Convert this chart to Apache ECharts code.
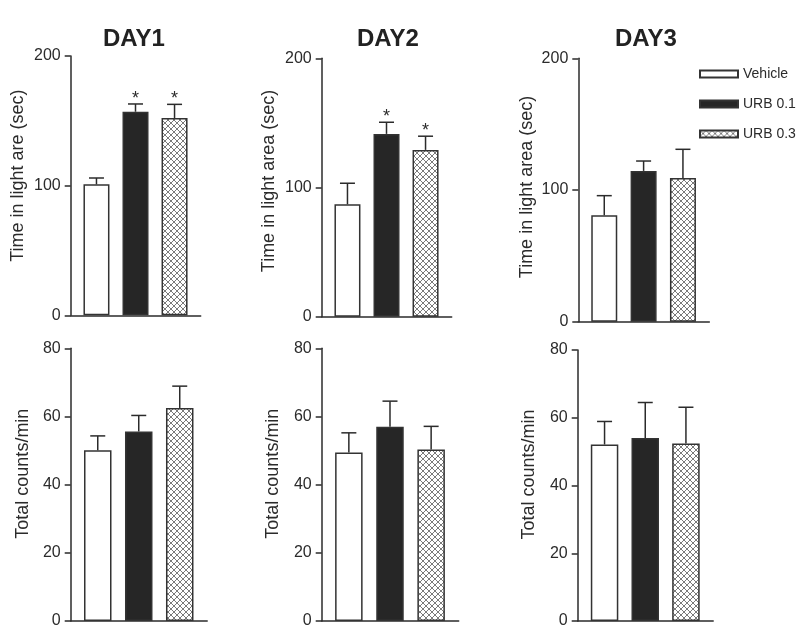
<!DOCTYPE html>
<html><head><meta charset="utf-8">
<script src="https://cdn.jsdelivr.net/npm/echarts@6/dist/echarts.min.js"></script>
<style>html,body{margin:0;padding:0;background:#fff}#c{width:800px;height:629px}</style>
</head><body><div id="c"></div>
<script>
// ---- data ----
const groups = ['Vehicle', 'URB 0.1', 'URB 0.3'];
const dayTitles = ['DAY1', 'DAY2', 'DAY3'];
const timeNames = ['Time in light are (sec)', 'Time in light area (sec)', 'Time in light area (sec)'];
const countName = 'Total counts/min';
const timeTicksMax = 200;
const countTicksMax = 80;

const timeDay1 = [101, 157, 152.2];
const timeDay1Err = [4.9, 6, 10.5];
const timeDay2 = [87, 141.5, 129.1];
const timeDay2Err = [16.3, 9, 10.6];
const timeDay3 = [80.8, 114.5, 109.1];
const timeDay3Err = [14.9, 7.5, 21.8];

const countDay1 = [50.1, 55.6, 62.5];
const countDay1Err = [4.2, 4.7, 6.4];
const countDay2 = [49.4, 57.0, 50.3];
const countDay2Err = [5.8, 7.5, 6.8];
const countDay3 = [52.1, 54.0, 52.4];
const countDay3Err = [6.8, 10.5, 10.7];

const starsDay1 = [0, 1, 1];
const starsDay2 = [0, 1, 1];
const starsDay3 = [0, 0, 0];

// ---- styling / layout ----
const FONT = "'Liberation Sans', Arial, Helvetica, sans-serif";
const INK = '#2b2b2b';

function hatch(stroke) {
  const c = document.createElement('canvas');
  c.width = 6; c.height = 6;
  const g = c.getContext('2d');
  g.fillStyle = '#fff'; g.fillRect(0, 0, 6, 6);
  g.strokeStyle = stroke; g.lineWidth = 1;
  g.beginPath();
  g.moveTo(0, 0); g.lineTo(6, 6);
  g.moveTo(6, 0); g.lineTo(0, 6);
  g.stroke();
  return { image: c, repeat: 'repeat' };
}
const fills = ['#ffffff', '#262626', hatch('#7a7a7a')];

const panels = [
  { grid: { left: 70.7, top: 56, width: 130, height: 259.3 }, means: timeDay1, errs: timeDay1Err, stars: starsDay1, max: timeTicksMax, interval: 100, name: timeNames[0], gap: 44, shift: 20, bw: 26 },
  { grid: { left: 321.7, top: 58.3, width: 130, height: 258.4 }, means: timeDay2, errs: timeDay2Err, stars: starsDay2, max: timeTicksMax, interval: 100, name: timeNames[1], gap: 44, shift: 13, bw: 26 },
  { grid: { left: 578.3, top: 58.3, width: 131, height: 263.4 }, means: timeDay3, errs: timeDay3Err, stars: starsDay3, max: timeTicksMax, interval: 100, name: timeNames[2], gap: 42, shift: 6, bw: 26 },
  { grid: { left: 70.7, top: 348.3, width: 136.5, height: 273.7 }, means: countDay1, errs: countDay1Err, stars: [0,0,0], max: countTicksMax, interval: 20, name: countName, gap: 39, shift: 22, bw: 27.5 },
  { grid: { left: 321.7, top: 348.3, width: 137, height: 273.7 }, means: countDay2, errs: countDay2Err, stars: [0,0,0], max: countTicksMax, interval: 20, name: countName, gap: 40, shift: 22, bw: 27.5 },
  { grid: { left: 577.7, top: 350, width: 135.5, height: 272 }, means: countDay3, errs: countDay3Err, stars: [0,0,0], max: countTicksMax, interval: 20, name: countName, gap: 40, shift: 22, bw: 27.5 }
];

const grid = [], xAxis = [], yAxis = [], series = [];
panels.forEach((p, k) => {
  grid.push(Object.assign({}, p.grid));
  xAxis.push({
    type: 'value', gridIndex: k, min: -0.66, max: 2.67,
    axisLine: { show: true, onZero: false, lineStyle: { color: INK, width: 1.5 } },
    axisTick: { show: false }, axisLabel: { show: false }, splitLine: { show: false }
  });
  yAxis.push({
    type: 'value', gridIndex: k, min: 0, max: p.max, interval: p.interval,
    name: p.name, nameLocation: 'middle', nameGap: p.gap, nameRotate: 90,
    nameTextStyle: { fontFamily: FONT, fontSize: 18, color: INK, padding: [0, 0, 0, p.shift] },
    axisLine: { show: true, onZero: false, lineStyle: { color: INK, width: 1.5 } },
    axisTick: { show: true, length: 6, lineStyle: { color: INK, width: 1.5 } },
    axisLabel: { fontFamily: FONT, fontSize: 16, color: INK, margin: 10 },
    splitLine: { show: false }
  });
  groups.forEach((gname, i) => {
    series.push({
      type: 'bar', name: gname, xAxisIndex: k, yAxisIndex: k, stack: 'p' + k,
      barWidth: p.bw,
      itemStyle: { color: fills[i], borderColor: '#333', borderWidth: 1.5 },
      data: [[i, p.means[i]]],
      emphasis: { disabled: true }
    });
  });
  series.push({
    type: 'custom', name: 'err' + k, xAxisIndex: k, yAxisIndex: k, z: 5,
    data: p.means.map((m, i) => [i, m, p.errs[i], p.stars[i]]),
    renderItem: function (params, api) {
      const x = api.value(0), m = api.value(1), e = api.value(2), s = api.value(3);
      const a = api.coord([x, m]);
      const b = api.coord([x, m + e]);
      const children = [
        { type: 'line', shape: { x1: a[0], y1: a[1], x2: b[0], y2: b[1] }, style: { stroke: INK, lineWidth: 1.5 } },
        { type: 'line', shape: { x1: b[0] - 7.5, y1: b[1], x2: b[0] + 7.5, y2: b[1] }, style: { stroke: INK, lineWidth: 1.5 } }
      ];
      if (s) {
        children.push({ type: 'text', x: b[0], y: b[1] + 4, style: { text: '*', fontFamily: FONT, fontSize: 18, fill: INK, align: 'center', verticalAlign: 'bottom' } });
      }
      return { type: 'group', children: children };
    }
  });
});

const titleCenters = [136, 390, 648];
const title = dayTitles.map((t, i) => ({
  text: t, left: titleCenters[i] - 33, top: 27, padding: 0,
  textStyle: { fontFamily: FONT, fontSize: 24, fontWeight: 'bold', color: '#222' }
}));

const chart = echarts.init(document.getElementById('c'), null, { renderer: 'canvas' });
chart.setOption({
  backgroundColor: '#fff',
  animation: false,
  title: title,
  legend: {
    data: groups, orient: 'vertical', left: 699, top: 67, itemWidth: 38, itemHeight: 7,
    itemGap: 16, icon: 'rect', padding: 0,
    textStyle: { fontFamily: FONT, fontSize: 14, color: INK }
  },
  grid: grid, xAxis: xAxis, yAxis: yAxis, series: series
});
</script></body></html>
